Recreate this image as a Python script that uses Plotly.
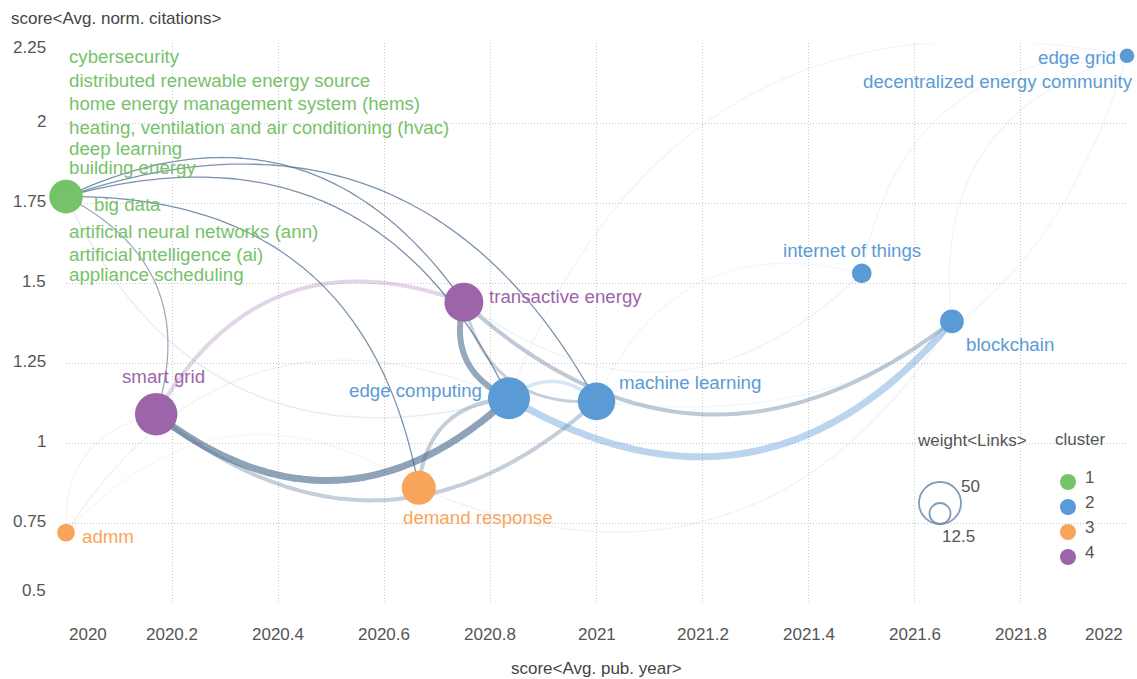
import numpy as np
import plotly.graph_objects as go

# ---------------- data ----------------
node_names = [
    "big data", "cybersecurity", "distributed renewable energy source",
    "home energy management system (hems)",
    "heating, ventilation and air conditioning (hvac)", "deep learning",
    "building energy", "artificial neural networks (ann)",
    "artificial intelligence (ai)", "appliance scheduling",
    "admm", "smart grid", "demand response", "transactive energy",
    "edge computing", "machine learning", "internet of things", "blockchain",
    "edge grid", "decentralized energy community",
]
node_pub_year = [2020, 2020, 2020, 2020, 2020, 2020, 2020, 2020, 2020, 2020,
                 2020, 2020.17, 2020.665, 2020.75, 2020.835, 2021.0, 2021.5,
                 2021.67, 2022, 2022]
node_citations = [1.77, 1.77, 1.77, 1.77, 1.77, 1.77, 1.77, 1.77, 1.77, 1.77,
                  0.72, 1.09, 0.86, 1.44, 1.14, 1.13, 1.53, 1.38, 2.21, 2.21]
node_cluster = [1, 1, 1, 1, 1, 1, 1, 1, 1, 1,
                3, 4, 3, 4, 2, 2, 2, 2, 2, 2]
node_links = [32, 6, 6, 6, 6, 6, 6, 6, 6, 6,
              9, 51, 33, 43, 50, 40, 11, 16, 6, 4]

edge_source = ["smart grid", "smart grid", "edge computing",
               "transactive energy", "transactive energy", "transactive energy",
               "edge computing", "machine learning", "transactive energy",
               "machine learning", "transactive energy", "edge computing",
               "demand response", "smart grid",
               "big data", "edge grid", "edge grid", "edge grid",
               "machine learning", "demand response", "edge computing",
               "demand response", "transactive energy", "internet of things",
               "smart grid"]
edge_target = ["edge computing", "machine learning", "demand response",
               "edge computing", "machine learning",
               "blockchain", "blockchain", "edge computing", "smart grid",
               "big data", "big data", "big data", "big data", "big data",
               "edge computing", "edge computing", "blockchain",
               "internet of things", "edge grid", "admm", "admm",
               "blockchain", "internet of things", "machine learning",
               "admm"]
edge_weight = [14, 8, 8, 12, 6, 8, 14, 7, 8,
               2.6, 2.6, 2.6, 2.6, 2.6,
               3, 3, 3, 3, 3, 3, 3, 3, 3, 3, 3]

legend_weights = [50, 12.5]
cluster_ids = [1, 2, 3, 4]

x_ticks = [2020, 2020.2, 2020.4, 2020.6, 2020.8, 2021, 2021.2, 2021.4,
           2021.6, 2021.8, 2022]
x_tick_text = ["2020", "2020.2", "2020.4", "2020.6", "2020.8", "2021",
               "2021.2", "2021.4", "2021.6", "2021.8", "2022"]
y_ticks = [0.5, 0.75, 1, 1.25, 1.5, 1.75, 2, 2.25]
y_tick_text = ["0.5", "0.75", "1", "1.25", "1.5", "1.75", "2", "2.25"]

# ---------------- style ----------------
W, H = 1137, 679
M_L, M_R, M_T, M_B = 66, 10, 43, 76
X_RANGE = [2020, 2022]
Y_RANGE = [0.5, 2.25]
PLOT_W = W - M_L - M_R
PLOT_H = H - M_T - M_B
FONT = "Arial, Liberation Sans, sans-serif"
CLUSTER_COLOR = {1: "#76c26a", 2: "#5b9bd5", 3: "#f8a55b", 4: "#9c65a9"}
CROSS_RGB = (74, 106, 140)
SIZE_K = 2.97          # radius (px) = SIZE_K * sqrt(links)
CURVE = 0.21           # sagitta / chord of link arcs

edge_alpha = [0.62, 0.32, 0.32, 0.58, 0.32, 0.36, 0.42, 0.25, 0.28,
              0.72, 0.72, 0.72, 0.72, 0.55,
              0.12, 0.09, 0.09, 0.09, 0.08, 0.10, 0.08, 0.08, 0.08, 0.07,
              0.07]

label_pos = {  # dx px, dy px (up), xanchor
    "cybersecurity": (1, 140, "left"),
    "distributed renewable energy source": (1, 116, "left"),
    "home energy management system (hems)": (1, 93, "left"),
    "heating, ventilation and air conditioning (hvac)": (1, 69, "left"),
    "deep learning": (1, 48, "left"),
    "building energy": (1, 29, "left"),
    "big data": (26, -8, "left"),
    "artificial neural networks (ann)": (1, -35, "left"),
    "artificial intelligence (ai)": (1, -58, "left"),
    "appliance scheduling": (1, -78, "left"),
    "admm": (14, -4, "left"),
    "smart grid": (7, 38, "center"),
    "demand response": (-18, -30, "left"),
    "transactive energy": (23, 6, "left"),
    "edge computing": (-25, 8, "right"),
    "machine learning": (20, 19, "left"),
    "internet of things": (-10, 23, "center"),
    "blockchain": (12, -23, "left"),
    "edge grid": (-9, -2, "right"),
    "decentralized energy community": (8, -26, "right"),
}


def to_px(x, y):
    px = M_L + (x - X_RANGE[0]) / (X_RANGE[1] - X_RANGE[0]) * PLOT_W
    py = M_T + (Y_RANGE[1] - y) / (Y_RANGE[1] - Y_RANGE[0]) * PLOT_H
    return px, py


def from_px(px, py):
    x = X_RANGE[0] + (px - M_L) / PLOT_W * (X_RANGE[1] - X_RANGE[0])
    y = Y_RANGE[1] - (py - M_T) / PLOT_H * (Y_RANGE[1] - Y_RANGE[0])
    return x, y


def rgba(rgb, a):
    return "rgba(%d,%d,%d,%.3f)" % (rgb[0], rgb[1], rgb[2], a)


def hex_rgb(h):
    h = h.lstrip("#")
    return tuple(int(h[i:i + 2], 16) for i in (0, 2, 4))


idx = {n: i for i, n in enumerate(node_names)}
fig = go.Figure()

# ---------------- links ----------------
order = sorted(range(len(edge_source)), key=lambda k: edge_alpha[k])
for k in order:
    s, t = idx[edge_source[k]], idx[edge_target[k]]
    p0 = np.array(to_px(node_pub_year[s], node_citations[s]))
    p2 = np.array(to_px(node_pub_year[t], node_citations[t]))
    d = p2 - p0
    L = np.hypot(*d)
    perp = np.array([-d[1], d[0]]) / L
    c = (p0 + p2) / 2 + 2 * CURVE * L * perp
    tt = np.linspace(0, 1, 80)[:, None]
    pts = (1 - tt) ** 2 * p0 + 2 * tt * (1 - tt) * c + tt ** 2 * p2
    xs, ys = from_px(pts[:, 0], pts[:, 1])
    if node_cluster[s] == node_cluster[t]:
        col = rgba(hex_rgb(CLUSTER_COLOR[node_cluster[s]]), edge_alpha[k])
    else:
        col = rgba(CROSS_RGB, edge_alpha[k])
    fig.add_trace(go.Scatter(x=xs, y=ys, mode="lines", hoverinfo="skip",
                             line=dict(color=col, width=edge_weight[k] * 0.5,
                                       shape="spline"),
                             showlegend=False, cliponaxis=False))

# ---------------- nodes ----------------
norder = sorted(range(len(node_names)), key=lambda i: -node_links[i])
fig.add_trace(go.Scatter(
    x=[node_pub_year[i] for i in norder],
    y=[node_citations[i] for i in norder],
    mode="markers", hoverinfo="text",
    text=[node_names[i] for i in norder],
    marker=dict(size=[2 * SIZE_K * np.sqrt(node_links[i]) for i in norder],
                color=[CLUSTER_COLOR[node_cluster[i]] for i in norder],
                opacity=1, line=dict(width=0)),
    showlegend=False, cliponaxis=False))

ann = []
for i, n in enumerate(node_names):
    dx, dy, xa = label_pos[n]
    ann.append(dict(x=node_pub_year[i], y=node_citations[i], xref="x", yref="y",
                    text=n, showarrow=False, xanchor=xa, yanchor="middle",
                    xshift=dx, yshift=dy,
                    font=dict(family=FONT, size=18.7,
                              color=CLUSTER_COLOR[node_cluster[i]])))

# ---------------- tick labels ----------------
TICK_FONT = dict(family=FONT, size=17, color="#555555")
for j, (v, tx) in enumerate(zip(x_ticks, x_tick_text)):
    xa, xs = "center", 0
    if j == 0:
        xa, xs = "left", 1
    elif j == len(x_ticks) - 1:
        xa, xs = "right", -2
    ann.append(dict(x=v, y=0, xref="x", yref="paper", text=tx, showarrow=False,
                    xanchor=xa, yanchor="middle", xshift=xs, yshift=-31,
                    font=TICK_FONT))
for j, (v, tx) in enumerate(zip(y_ticks, y_tick_text)):
    ys = 2
    if j == 0:
        ys = 13
    elif j == len(y_ticks) - 1:
        ys = -4
    ann.append(dict(x=0, y=v, xref="paper", yref="y", text=tx, showarrow=False,
                    xanchor="right", yanchor="middle", xshift=-18, yshift=ys,
                    font=TICK_FONT))

TITLE_FONT = dict(family=FONT, size=17, color="#444444")
ann.append(dict(x=0, y=1, xref="paper", yref="paper",
                text="score&lt;Avg. norm. citations&gt;", showarrow=False,
                xanchor="left", yanchor="middle", xshift=-57, yshift=25,
                font=TITLE_FONT))
ann.append(dict(x=0.5, y=0, xref="paper", yref="paper",
                text="score&lt;Avg. pub. year&gt;", showarrow=False,
                xanchor="center", yanchor="middle", yshift=-65,
                font=TITLE_FONT))


# ---------------- legends ----------------
def pxp(px, py):
    return (px - M_L) / PLOT_W, (M_T + PLOT_H - py) / PLOT_H


LEG_FONT = dict(family=FONT, size=17, color="#555555")
shapes = []
lx, ly = pxp(972, 441)
ann.append(dict(x=lx, y=ly, xref="paper", yref="paper",
                text="weight&lt;Links&gt;", showarrow=False, xanchor="center",
                yanchor="middle", font=LEG_FONT))
cbx, cby = pxp(940, 524)  # common bottom of the size circles
lab_pos = [(970, 486), (958, 536)]
for w, (tx, ty) in zip(legend_weights, lab_pos):
    r = SIZE_K * np.sqrt(w)
    shapes.append(dict(type="circle", xref="paper", yref="paper",
                       xsizemode="pixel", ysizemode="pixel",
                       xanchor=cbx, yanchor=cby,
                       x0=-r, x1=r, y0=0, y1=2 * r,
                       line=dict(color="rgba(110,140,170,0.85)", width=1.8)))
    ax, ay = pxp(tx, ty)
    ann.append(dict(x=ax, y=ay, xref="paper", yref="paper", text=("%g" % w),
                    showarrow=False, xanchor="center", yanchor="middle",
                    font=LEG_FONT))

cx, cy = pxp(1080, 440)
ann.append(dict(x=cx, y=cy, xref="paper", yref="paper", text="cluster",
                showarrow=False, xanchor="center", yanchor="middle",
                font=LEG_FONT))
for j, c in enumerate(cluster_ids):
    dxp, dyp = pxp(1068, 482 + 25 * j)
    shapes.append(dict(type="circle", xref="paper", yref="paper",
                       xsizemode="pixel", ysizemode="pixel",
                       xanchor=dxp, yanchor=dyp, x0=-8, x1=8, y0=-8, y1=8,
                       fillcolor=CLUSTER_COLOR[c], line=dict(width=0)))
    tx, ty = pxp(1089, 477 + 25 * j)
    ann.append(dict(x=tx, y=ty, xref="paper", yref="paper", text=str(c),
                    showarrow=False, xanchor="center", yanchor="middle",
                    font=LEG_FONT))

GRID = dict(showgrid=True, gridcolor="#c9c9c9", griddash="1px,2px",
            gridwidth=1, zeroline=False, showline=False, ticks="",
            showticklabels=False, fixedrange=True)
fig.update_layout(
    width=W, height=H,
    margin=dict(l=M_L, r=M_R, t=M_T, b=M_B),
    paper_bgcolor="white", plot_bgcolor="white",
    annotations=ann, shapes=shapes,
    xaxis=dict(range=X_RANGE, tick0=2020, dtick=0.2, **GRID),
    yaxis=dict(range=Y_RANGE, tick0=0.5, dtick=0.25, **GRID),
    showlegend=False, hovermode=False,
)

fig.write_html("out.html",
               config={"displayModeBar": False},
               post_script="document.body.style.margin='0';"
                           "document.body.style.overflow='hidden';")
